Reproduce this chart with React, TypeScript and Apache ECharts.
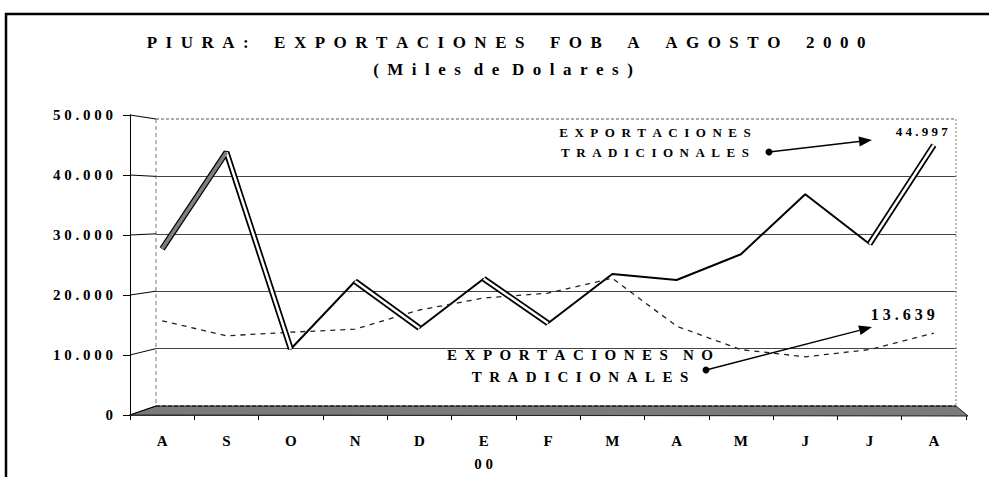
import React, { useEffect, useRef } from "react";
import * as echarts from "echarts";

// ---- data (Miles de Dolares) ----
const categories = ["A", "S", "O", "N", "D", "E", "F", "M", "A", "M", "J", "J", "A"];
const yearRow = ["", "", "", "", "", "00", "", "", "", "", "", "", ""];
const tradicionales = [27700, 43800, 11000, 22300, 14500, 22700, 15300, 23500, 22500, 26800, 36800, 28500, 44997];
const noTradicionales = [15700, 13200, 13800, 14300, 17500, 19500, 20300, 22800, 14800, 10900, 9700, 10900, 13639];
const yMin = 0;
const yMax = 50000;
const yStep = 10000;

const titleText = "PIURA: EXPORTACIONES FOB A AGOSTO 2000";
const subtitleText = "(Miles de Dolares)";
const tradNote = ["EXPORTACIONES", "TRADICIONALES"];
const noTradNote = ["EXPORTACIONES NO", "TRADICIONALES"];

const FONT = '"Liberation Serif", "Times New Roman", serif';

const spaceOut = (s: string, inner: number, word: number) =>
  s
    .split(" ")
    .map((w) => Array.from(w).join("\u00A0".repeat(inner)))
    .join("\u00A0".repeat(word));

const fmt = (v: number) => String(Math.round(v)).replace(/\B(?=(\d{3})+(?!\d))/g, ".");

const mask = (arr: number[], idx: number[]) => arr.map((v, i) => (idx.includes(i) ? v : null));

// layout (px)
const FRONT = { left: 130, top: 115, width: 836, height: 300 };
const BACK = { left: 156, top: 119, width: 800, height: 287 };

function arrow(x1: number, y1: number, x2: number, y2: number) {
  const dx = x2 - x1, dy = y2 - y1;
  const len = Math.sqrt(dx * dx + dy * dy);
  const ux = dx / len, uy = dy / len;
  const L = 13, Wd = 5;
  const bx = x2 - ux * L, by = y2 - uy * L;
  return [
    { type: "line", z: 20, shape: { x1, y1, x2: bx, y2: by }, style: { stroke: "#000", lineWidth: 1.3 } },
    {
      type: "polygon",
      z: 20,
      shape: { points: [[x2, y2], [bx - uy * Wd, by + ux * Wd], [bx + uy * Wd, by - ux * Wd]] },
      style: { fill: "#000" },
    },
    { type: "circle", z: 20, shape: { cx: x1, cy: y1, r: 3.5 }, style: { fill: "#000" } },
  ];
}

export default function App() {
  const ref = useRef<HTMLDivElement>(null);
  useEffect(() => {
    if (!ref.current) return;
    const chart = echarts.init(ref.current, null, { renderer: "svg" });

    const ticks: number[] = [];
    for (let v = yMin; v <= yMax; v += yStep) ticks.push(v);
    const connectors = ticks.map((v) => ({
      type: "line",
      z: 2,
      shape: {
        x1: FRONT.left,
        y1: FRONT.top + FRONT.height - (v / yMax) * FRONT.height,
        x2: BACK.left,
        y2: BACK.top + BACK.height - (v / yMax) * BACK.height,
      },
      style: { stroke: "#000", lineWidth: 1 },
    }));

    const bl = BACK.left, br = BACK.left + BACK.width, bt = BACK.top, bb = BACK.top + BACK.height;
    const fl = FRONT.left, fr = FRONT.left + FRONT.width, fb = FRONT.top + FRONT.height;

    const lastIdx = tradicionales.length - 1;
    const baseLabelStyle = { fontFamily: FONT, fontWeight: "bold", color: "#000" };
    const hiddenSymbol = {
      symbol: "circle",
      symbolSize: 1,
      showSymbol: true,
      showAllSymbol: true,
      itemStyle: { color: "rgba(0,0,0,0)" },
    };

    const option: any = {
      animation: false,
      backgroundColor: "#fff",
      grid: [
        { left: FRONT.left, top: FRONT.top, width: FRONT.width, height: FRONT.height },
        { left: BACK.left, top: BACK.top, width: BACK.width, height: BACK.height },
      ],
      xAxis: [
        {
          type: "category",
          gridIndex: 0,
          data: categories,
          boundaryGap: true,
          axisLine: { show: true, lineStyle: { color: "#000", width: 1.5 } },
          axisTick: { show: true, length: 5, lineStyle: { color: "#000" } },
          axisLabel: {
            ...baseLabelStyle,
            fontSize: 15,
            margin: 14,
            lineHeight: 23,
            interval: 0,
            formatter: (v: string, i: number) => (yearRow[i] ? v + "\n" + spaceOut(yearRow[i], 1, 1) : v),
          },
          splitLine: { show: false },
        },
        { type: "category", gridIndex: 1, data: categories, show: false },
      ],
      yAxis: [
        {
          type: "value",
          gridIndex: 0,
          min: yMin,
          max: yMax,
          interval: yStep,
          axisLine: { show: true, lineStyle: { color: "#000", width: 1 } },
          axisTick: { show: true, length: 7, lineStyle: { color: "#000" } },
          axisLabel: {
            ...baseLabelStyle,
            fontSize: 15,
            margin: 17,
            formatter: (v: number) => spaceOut(fmt(v), 1, 1),
          },
          splitLine: { show: false },
        },
        {
          type: "value",
          gridIndex: 1,
          min: yMin,
          max: yMax,
          interval: yStep,
          axisLine: { show: false },
          axisTick: { show: false },
          axisLabel: { show: false },
          splitLine: { show: true, showMaxLine: false, showMinLine: false, lineStyle: { color: "#444", width: 1.2 } },
        },
      ],
      graphic: [
        { type: "rect", z: 0, shape: { x: 6, y: 14, width: 1000, height: 500 }, style: { fill: "none", stroke: "#000", lineWidth: 2.5 } },
        { type: "line", z: 1, shape: { x1: bl, y1: bt, x2: bl, y2: bb }, style: { stroke: "#777", lineWidth: 1, lineDash: [4, 3] } },
        { type: "line", z: 1, shape: { x1: bl, y1: bt, x2: br, y2: bt }, style: { stroke: "#555", lineWidth: 1, lineDash: [3, 2] } },
        { type: "line", z: 1, shape: { x1: br, y1: bt, x2: br, y2: bb }, style: { stroke: "#777", lineWidth: 1, lineDash: [2, 2] } },
        {
          type: "polygon",
          z: 1,
          shape: { points: [[fl, fb], [bl, bb], [br, bb], [fr + 2, fb + 1]] },
          style: { fill: "#7a7a7a", stroke: "#222", lineWidth: 1 },
        },
        { type: "line", z: 2, shape: { x1: bl, y1: bb, x2: br, y2: bb }, style: { stroke: "#000", lineWidth: 1, lineDash: [4, 2] } },
        ...connectors,
        {
          type: "text",
          z: 20,
          x: 506,
          y: 42,
          style: { text: spaceOut(titleText, 2, 6), font: `bold 17px ${FONT}`, fill: "#000", textAlign: "center", textVerticalAlign: "middle" },
        },
        {
          type: "text",
          z: 20,
          x: 503,
          y: 69,
          style: { text: spaceOut(subtitleText, 2, 3), font: `bold 17px ${FONT}`, fill: "#000", textAlign: "center", textVerticalAlign: "middle" },
        },
        ...tradNote.map((t, i) => ({
          type: "text",
          z: 20,
          x: 655,
          y: 132 + i * 20,
          style: { text: spaceOut(t, 2, 4), font: `bold 13px ${FONT}`, fill: "#000", textAlign: "center", textVerticalAlign: "middle" },
        })),
        ...noTradNote.map((t, i) => ({
          type: "text",
          z: 20,
          x: 580,
          y: 355 + i * 22,
          style: { text: spaceOut(t, 2, 4), font: `bold 15px ${FONT}`, fill: "#000", textAlign: "center", textVerticalAlign: "middle" },
        })),
        ...arrow(769, 152, 872, 140),
        ...arrow(706, 370, 872, 327),
      ],
      series: [
        {
          name: "Exportaciones Tradicionales",
          type: "line",
          xAxisIndex: 0,
          yAxisIndex: 0,
          z: 3,
          ...hiddenSymbol,
          lineStyle: { color: "#000", width: 2 },
          data: tradicionales.map((v, i) =>
            i === lastIdx
              ? {
                  value: v,
                  label: {
                    show: true,
                    position: "top",
                    distance: 5,
                    offset: [-12, -2],
                    ...baseLabelStyle,
                    fontSize: 13,
                    formatter: () => spaceOut(fmt(v), 1, 1),
                  },
                }
              : v
          ),
        },
        {
          type: "line", xAxisIndex: 0, yAxisIndex: 0, z: 4, symbol: "none", silent: true,
          lineStyle: { color: "#000", width: 6 },
          data: mask(tradicionales, [0, 1, 2, 5, 6, 11, 12]),
        },
        {
          type: "line", xAxisIndex: 0, yAxisIndex: 0, z: 4, symbol: "none", silent: true,
          lineStyle: { color: "#000", width: 6 },
          data: mask(tradicionales, [3, 4]),
        },
        {
          type: "line", xAxisIndex: 0, yAxisIndex: 0, z: 5, symbol: "none", silent: true,
          lineStyle: { color: "#fff", width: 2.5 },
          data: mask(tradicionales, [1, 2, 5, 6, 11, 12]),
        },
        {
          type: "line", xAxisIndex: 0, yAxisIndex: 0, z: 5, symbol: "none", silent: true,
          lineStyle: { color: "#fff", width: 2.5 },
          data: mask(tradicionales, [3, 4]),
        },
        {
          type: "line", xAxisIndex: 0, yAxisIndex: 0, z: 5, symbol: "none", silent: true,
          lineStyle: { color: "#808080", width: 3.5 },
          data: mask(tradicionales, [0, 1]),
        },
        {
          name: "Exportaciones No Tradicionales",
          type: "line",
          xAxisIndex: 0,
          yAxisIndex: 0,
          z: 3,
          ...hiddenSymbol,
          lineStyle: { color: "#222", width: 1.3, type: [5, 5] },
          data: noTradicionales.map((v, i) =>
            i === lastIdx
              ? {
                  value: v,
                  label: {
                    show: true,
                    position: "top",
                    distance: 5,
                    offset: [-31, -5],
                    ...baseLabelStyle,
                    fontSize: 16,
                    formatter: () => spaceOut(fmt(v), 1, 1),
                  },
                }
              : v
          ),
        },
      ],
    };
    chart.setOption(option);
    return () => chart.dispose();
  }, []);
  return <div ref={ref} style={{ width: 989, height: 477, position: "absolute", left: 0, top: 0 }} />;
}
